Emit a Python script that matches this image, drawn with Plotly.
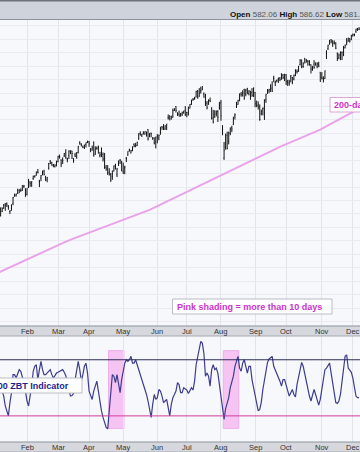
import pandas as pd
import plotly.graph_objects as go

# ---------------- data ----------------
holidays = ['2024-01-15', '2024-02-19', '2024-03-29', '2024-05-27',
            '2024-06-19', '2024-07-04', '2024-09-02', '2024-11-28']
dates = [d.strftime('%Y-%m-%d') for d in pd.bdate_range('2024-01-02', '2024-12-06')
         if d.strftime('%Y-%m-%d') not in holidays]

opens = [
    476.3, 470.4, 468.3, 467.5, 468.4, 471.9, 474.2, 477.6, 477.8, 475.3, 471.8, 474.0, 477.7, 484.0, 484.0, 487.8, 487.6, 487.6, 487.7, 490.6, 488.6,
    484.6, 489.7, 493.7, 493.5, 496.3, 498.1, 498.8, 501.2, 494.5, 496.8, 499.3, 501.7, 497.7, 495.4, 504.0, 509.3, 508.3, 506.7, 505.3, 508.1,
    508.9, 512.0, 510.2, 510.5, 513.1, 515.5, 510.5, 513.5, 517.1, 516.9, 510.2, 514.0, 512.2, 515.8, 523.4, 522.1, 519.8, 521.2, 521.7, 523.2,
    523.8, 518.2, 517.7, 523.5, 514.5, 519.2, 520.5, 513.5, 515.7, 514.4, 515.1, 504.9, 506.1, 501.0, 499.4, 497.8, 501.8, 506.6, 499.2, 506.4, 510.1, 508.6,
    501.4, 504.2, 511.2, 513.8, 517.6, 515.3, 517.4, 521.8, 522.6, 521.1, 525.8, 529.9, 528.8, 529.6, 529.3, 530.7, 532.9, 527.9, 530.3, 525.7, 526.5, 523.6,
    529.0, 526.5, 530.8, 534.9, 533.7, 533.2, 534.1, 541.6, 543.2, 540.9, 542.1, 547.2, 550.0, 544.4, 544.3, 543.9, 543.7, 545.4, 547.2,
    545.6, 543.7, 548.7, 551.8, 555.4, 556.3, 557.1, 561.4, 557.6, 562.0, 562.9, 559.4, 558.5, 552.4, 553.0, 554.5, 548.9, 541.4, 542.3, 546.0, 546.3, 548.9,
    552.6, 535.8, 511.6, 519.2, 528.5, 523.9, 529.8, 534.2, 536.5, 542.9, 549.5, 551.4, 554.7, 559.2, 559.8, 562.6, 559.5, 563.2, 559.5, 561.2, 560.3, 560.8,
    560.5, 550.2, 550.9, 549.9, 544.7, 548.4, 548.7, 555.0, 559.7, 561.7, 565.1, 563.7, 571.0, 567.8, 569.3, 570.5, 571.1, 574.4, 573.4, 570.4,
    573.4, 567.7, 567.4, 572.4, 571.3, 570.4, 573.2, 575.8, 576.1, 581.2, 584.6, 579.8, 585.9, 584.1, 583.9, 581.1, 581.3, 580.0, 581.5, 582.6, 579.9, 581.3, 575.6,
    571.3, 571.2, 570.7, 589.2, 593.1, 596.2, 599.8, 598.7, 597.4, 597.3, 589.7, 586.2, 584.7, 590.4, 593.4, 593.7, 599.5, 598.8, 600.5, 599.7,
    603.0, 603.4, 605.6, 607.7, 607.4]
highs = [
    476.4, 471.2, 470.9, 470.4, 474.8, 474.9, 477.4, 478.1, 478.6, 476.6, 472.8, 477.1, 482.7, 485.2, 485.1, 488.8, 488.3, 489.1, 491.4, 491.6, 489.1,
    489.2, 496.1, 494.4, 494.3, 498.5, 498.7, 501.6, 503.5, 495.4, 499.0, 502.2, 502.9, 498.4, 497.4, 508.0, 510.1, 508.8, 507.2, 507.0, 509.7,
    513.3, 514.2, 510.7, 512.1, 515.4, 518.2, 511.9, 517.4, 517.3, 517.1, 511.7, 515.5, 516.0, 520.6, 524.1, 522.6, 520.9, 521.6, 523.2, 524.6,
    524.4, 518.9, 520.9, 523.9, 520.4, 520.2, 520.8, 516.2, 519.5, 515.8, 515.3, 506.5, 506.2, 504.1, 500.5, 502.4, 506.1, 507.4, 504.3, 509.9, 510.8, 509.6,
    508.2, 505.9, 512.5, 516.6, 518.6, 517.7, 520.2, 522.6, 522.7, 523.8, 530.1, 531.5, 529.5, 531.6, 531.5, 531.4, 533.1, 530.3, 530.5, 527.3, 527.0, 527.5,
    529.3, 529.2, 534.7, 535.4, 536.9, 536.0, 537.0, 544.1, 543.3, 543.0, 548.5, 548.6, 550.3, 545.7, 546.9, 545.2, 546.2, 546.9, 550.3,
    546.0, 549.9, 551.8, 555.1, 556.3, 557.2, 561.7, 562.3, 563.7, 564.8, 565.2, 560.5, 559.5, 554.1, 555.3, 556.7, 549.4, 547.5, 547.2, 547.1, 547.3, 553.5,
    554.9, 536.0, 523.6, 529.8, 531.3, 531.3, 534.5, 535.7, 542.3, 544.9, 553.4, 555.0, 559.6, 560.8, 562.1, 563.2, 563.1, 563.9, 562.1, 561.7, 563.7, 564.2,
    560.8, 554.4, 553.8, 551.6, 547.7, 549.2, 555.4, 559.4, 563.0, 563.1, 566.6, 568.7, 572.9, 569.3, 570.0, 571.4, 571.9, 574.7, 574.2, 574.4,
    574.1, 569.9, 569.8, 573.4, 572.0, 573.8, 577.7, 577.6, 580.3, 585.3, 584.9, 582.8, 586.1, 585.4, 584.5, 584.5, 581.4, 580.1, 584.5, 582.7, 582.9, 583.3, 575.6,
    575.6, 572.5, 576.7, 591.9, 596.0, 599.6, 600.2, 599.3, 599.2, 597.8, 590.2, 589.5, 591.0, 590.8, 595.1, 596.2, 600.9, 601.3, 600.9, 603.4,
    604.3, 604.2, 607.9, 608.5, 609.1]
lows = [
    470.5, 468.2, 467.1, 466.4, 468.3, 471.4, 473.9, 472.3, 475.2, 473.1, 469.9, 472.4, 476.5, 482.8, 482.9, 484.9, 485.4, 486.5, 487.2, 489.2, 482.9,
    483.8, 489.3, 490.2, 490.2, 495.4, 497.0, 498.5, 500.2, 490.0, 494.4, 498.8, 498.7, 494.5, 493.6, 503.0, 507.1, 505.9, 504.8, 504.6, 505.4,
    508.5, 511.2, 504.9, 507.2, 512.4, 511.1, 508.5, 510.9, 514.5, 510.9, 508.1, 512.4, 511.1, 515.1, 521.6, 520.3, 519.0, 518.4, 519.5, 522.8,
    520.0, 516.0, 517.1, 512.8, 514.0, 517.8, 514.9, 512.1, 512.3, 509.1, 503.6, 502.2, 499.1, 498.6, 493.9, 495.4, 501.7, 503.1, 497.5, 505.7, 507.2, 501.9,
    499.9, 499.6, 508.6, 513.3, 516.4, 515.1, 516.7, 519.6, 519.7, 520.6, 525.2, 528.5, 527.3, 529.2, 529.1, 527.6, 524.7, 527.1, 527.1, 525.4, 521.8, 518.8,
    522.6, 524.9, 529.0, 532.7, 532.5, 532.6, 532.5, 540.3, 539.6, 540.2, 541.6, 546.7, 545.5, 543.0, 542.6, 542.4, 543.0, 544.6, 542.9,
    542.0, 543.4, 548.6, 551.2, 554.2, 555.0, 556.8, 555.8, 557.2, 559.6, 562.1, 556.6, 550.4, 547.9, 551.2, 553.3, 540.3, 537.4, 541.5, 542.6, 538.5, 547.6,
    539.4, 528.6, 510.3, 517.9, 518.1, 521.8, 528.6, 530.9, 536.3, 540.3, 548.9, 551.3, 553.9, 557.3, 557.4, 555.0, 557.6, 559.1, 558.3, 555.0, 557.2, 557.1,
    549.5, 549.5, 547.7, 539.4, 543.4, 543.4, 540.0, 552.7, 559.5, 559.9, 560.8, 560.8, 568.1, 565.2, 568.0, 567.6, 568.9, 569.9, 570.4, 568.9,
    566.0, 565.3, 565.5, 568.0, 566.6, 569.5, 572.6, 574.5, 575.9, 580.6, 578.5, 578.8, 582.2, 582.6, 580.4, 580.4, 574.6, 576.6, 578.1, 580.5, 578.4, 579.3, 568.4,
    570.1, 567.9, 570.5, 585.4, 592.1, 596.2, 597.0, 594.4, 596.2, 592.7, 583.9, 585.3, 584.6, 584.6, 587.5, 593.2, 595.6, 598.1, 597.6, 599.4,
    602.0, 602.3, 604.9, 606.3, 606.9]
closes = [
    472.7, 468.8, 467.3, 467.9, 474.6, 473.9, 476.6, 476.4, 476.7, 474.9, 472.3, 476.5, 482.4, 483.5, 484.9, 485.4, 488.0, 487.4, 491.3, 490.9, 482.9,
    489.2, 494.4, 492.6, 494.0, 498.1, 498.3, 501.2, 501.0, 494.1, 498.6, 502.0, 499.5, 496.8, 497.2, 507.5, 507.9, 506.0, 506.9, 506.3, 508.1,
    512.9, 512.3, 507.2, 509.8, 514.8, 511.7, 511.3, 516.8, 516.0, 515.0, 509.8, 512.9, 515.7, 520.5, 522.2, 521.2, 519.8, 518.8, 523.2, 523.1,
    522.2, 518.8, 519.4, 513.1, 518.4, 518.7, 519.3, 514.1, 518.0, 510.9, 504.5, 503.5, 500.6, 499.5, 495.2, 499.7, 505.7, 505.4, 503.5, 508.3, 510.1, 502.0,
    500.4, 505.0, 511.3, 516.6, 517.1, 517.2, 520.2, 520.8, 520.9, 523.3, 529.8, 528.7, 529.5, 530.1, 531.4, 529.8, 526.0, 529.4, 529.8, 526.1, 522.6, 527.4,
    527.8, 528.4, 534.7, 534.7, 534.0, 535.7, 537.0, 541.4, 542.5, 542.8, 547.1, 548.5, 547.0, 544.5, 542.7, 544.8, 545.5, 546.4, 544.2,
    545.3, 549.0, 551.5, 554.6, 555.3, 555.8, 561.3, 556.5, 560.0, 561.5, 564.9, 556.9, 552.7, 549.0, 554.7, 553.8, 541.2, 538.4, 544.4, 544.8, 542.0, 550.8,
    543.0, 532.9, 517.4, 522.2, 518.7, 530.7, 533.0, 533.3, 542.0, 543.8, 553.1, 554.3, 559.6, 558.7, 560.6, 556.2, 562.1, 560.8, 561.6, 558.3, 558.4, 563.7,
    552.1, 551.0, 549.6, 540.4, 546.4, 548.8, 554.4, 559.1, 562.0, 562.8, 563.1, 561.4, 571.0, 568.3, 569.7, 571.3, 570.0, 572.3, 571.5, 573.8,
    568.6, 568.9, 567.8, 573.0, 567.8, 573.2, 577.1, 576.1, 579.6, 584.3, 579.8, 582.3, 582.4, 584.6, 583.6, 583.3, 578.0, 579.2, 579.0, 580.8, 581.8, 580.0, 568.6,
    571.0, 569.8, 576.7, 591.0, 595.6, 598.2, 598.8, 596.9, 597.2, 593.4, 585.8, 588.2, 590.3, 590.5, 593.7, 595.5, 597.5, 600.7, 598.8, 602.6,
    603.6, 603.9, 607.7, 606.7, 607.8]

# 200-day moving average, read weekly (every 5th trading day)
sma_dates = dates[::5]
sma200 = [425.0, 427.7, 430.5, 433.2, 435.9, 438.7, 441.4, 444.1, 446.6, 448.9,
          451.3, 453.5, 455.8, 458.0, 460.2, 462.4, 464.6, 466.7, 468.8, 470.9,
          473.0, 475.9, 478.7, 481.6, 484.4, 487.3, 490.1, 493.0, 495.7, 498.5,
          501.2, 504.0, 506.7, 509.5, 512.2, 515.0, 517.7, 520.5, 522.9, 525.3,
          527.7, 530.1, 532.8, 536.0, 539.2, 542.4, 545.6, 548.5]

zbt = [
    .514, .501, .520, .527, .514, .495, .476, .438, .413, .400, .451, .489, .558, .558, .545, .558, .577, .571, .552, .527, .495,
    .457, .438, .476, .514, .571, .590, .596, .539, .577, .609, .577, .558, .558, .564, .571, .577, .558, .545, .554, .564,
    .567, .571, .573, .577, .567, .554, .527, .495, .476, .478, .486, .539, .577, .609, .577, .533, .558, .590, .602, .564,
    .495, .478, .463, .495, .514, .533, .495, .451, .419, .394, .369, .356, .350, .425, .476, .558, .552, .527, .558, .527, .489, .539,
    .577, .602, .615, .609, .615, .628, .602, .602, .615, .596, .583, .558, .539, .520, .501, .482, .457, .425, .394, .444, .482, .463,
    .470, .501, .495, .476, .451, .457, .463, .432, .400, .444, .470, .482, .495, .527, .520, .489, .489, .508, .504,
    .499, .486, .495, .508, .499, .533, .596, .628, .653, .685, .678, .640, .552, .564, .552, .514, .577, .596, .577, .583, .564, .514,
    .470, .432, .387, .428, .451, .470, .508, .533, .552, .590, .615, .628, .583, .571, .602, .615, .590, .564, .590, .590, .539, .508,
    .476, .448, .419, .425, .453, .501, .539, .583, .605, .618, .625, .628, .590, .577, .564, .549, .533, .514, .539, .539,
    .516, .495, .476, .489, .501, .482, .473, .520, .552, .583, .605, .590, .558, .527, .501, .476, .457, .482, .501, .482, .463, .441, .463,
    .508, .552, .577, .583, .592, .602, .564, .527, .489, .451, .448, .457, .482, .533, .564, .628, .634, .583, .575, .567,
    .545, .514, .476, .470, .470]

zbt_upper = 0.615
zbt_lower = 0.40
shade_start = ['2024-04-18', '2024-08-05']
shade_end = ['2024-05-01', '2024-08-16']
shade_top, shade_bottom = 0.65, 0.352

month_names = ['Jan', 'Feb', 'Mar', 'Apr', 'May', 'Jun', 'Jul', 'Aug', 'Sep', 'Oct', 'Nov', 'Dec']
month_starts = []
for d in dates:
    if not month_starts or d[:7] != month_starts[-1][:7]:
        month_starts.append(d)

# ---------------- figure ----------------
W, H = 360, 452
def px(x):
    return x / W
def py(y):
    return 1 - y / H

BG = '#f7f8fb'
GRID = '#e1e4ea'

fig = go.Figure()
fig.add_trace(go.Ohlc(
    x=dates, open=opens, high=highs, low=lows, close=closes,
    increasing=dict(line=dict(color='#111111', width=1)),
    decreasing=dict(line=dict(color='#111111', width=1)),
    tickwidth=0.35, xaxis='x', yaxis='y', hoverinfo='skip'))
fig.add_trace(go.Scatter(
    x=sma_dates, y=sma200, mode='lines', line=dict(color='#eaa2ea', width=2),
    xaxis='x', yaxis='y', hoverinfo='skip'))
fig.add_trace(go.Scatter(
    x=dates, y=zbt, mode='lines', line=dict(color='#3d3d8e', width=1.2),
    xaxis='x2', yaxis='y2', hoverinfo='skip'))

shapes = []
for s, e in zip(shade_start, shade_end):
    shapes.append(dict(type='rect', xref='x2', yref='y2', layer='below',
                       x0=dates.index(s) - 0.5, x1=dates.index(e) + 0.5,
                       y0=shade_bottom, y1=shade_top,
                       fillcolor='#f6c4f3', line=dict(color='#ecb0ec', width=1)))
shapes.append(dict(type='line', xref='x2 domain', yref='y2', x0=0, x1=1,
                   y0=zbt_upper, y1=zbt_upper, line=dict(color='#2c2c58', width=1.2)))
shapes.append(dict(type='line', xref='x2 domain', yref='y2', x0=0, x1=1,
                   y0=zbt_lower, y1=zbt_lower, line=dict(color='#d03c9c', width=1)))

# header band
shapes.append(dict(type='rect', xref='paper', yref='paper', x0=0, x1=1,
                   y0=py(19.5), y1=1, fillcolor='#cfd3dc', line=dict(width=0)))
shapes.append(dict(type='line', xref='paper', yref='paper', x0=0, x1=1,
                   y0=py(0.7), y1=py(0.7), line=dict(color='#6e727a', width=1.5)))
shapes.append(dict(type='line', xref='paper', yref='paper', x0=0, x1=1,
                   y0=py(19.5), y1=py(19.5), line=dict(color='#8c919b', width=1)))
# month bands
for top, bot in [(326, 336), (442, 452)]:
    shapes.append(dict(type='rect', xref='paper', yref='paper', x0=0, x1=1,
                       y0=py(bot), y1=py(top), fillcolor='#d6d8de', line=dict(width=0)))
    shapes.append(dict(type='line', xref='paper', yref='paper', x0=0, x1=1,
                       y0=py(top), y1=py(top), line=dict(color='#8e939c', width=1)))
    shapes.append(dict(type='line', xref='paper', yref='paper', x0=0, x1=1,
                       y0=py(bot), y1=py(bot), line=dict(color='#a4a8b0', width=1)))

# label boxes
shapes.append(dict(type='rect', xref='paper', yref='paper', x0=px(330), x1=px(370),
                   y0=py(112), y1=py(97.5), fillcolor='#ffffff',
                   line=dict(color='#d9a6d9', width=1)))
shapes.append(dict(type='rect', xref='paper', yref='paper', x0=px(172.5), x1=px(332),
                   y0=py(314), y1=py(299), fillcolor='#ffffff',
                   line=dict(color='#b9bcc4', width=1)))
shapes.append(dict(type='rect', xref='paper', yref='paper', x0=px(-5), x1=px(82),
                   y0=py(393), y1=py(378), fillcolor='#ffffff',
                   line=dict(color='#b9bcc4', width=1)))

ann = []
ann.append(dict(xref='paper', yref='paper', x=px(228), y=py(15), xanchor='left', yanchor='middle',
                showarrow=False,
                text="<b>Open</b> <span style='color:#555'>582.06</span> <b>High</b> "
                     "<span style='color:#555'>586.62</span> <b>Low</b> <span style='color:#555'>581.45</span>",
                font=dict(family='Liberation Sans, Arial', size=8, color='#111111')))
ann.append(dict(xref='paper', yref='paper', x=px(332), y=py(105), xanchor='left', yanchor='middle',
                showarrow=False, text='<b>200-day SMA</b>',
                font=dict(family='Liberation Sans, Arial', size=9, color='#cc33cc')))
ann.append(dict(xref='paper', yref='paper', x=px(175), y=py(306.5), xanchor='left', yanchor='middle',
                showarrow=False, text='<b>Pink shading = more than 10 days</b>',
                font=dict(family='Liberation Sans, Arial', size=9, color='#cc33cc')))
ann.append(dict(xref='paper', yref='paper', x=px(71), y=py(385.5), xanchor='right', yanchor='middle',
                showarrow=False, text='<b>S&P 500 ZBT Indicator</b>',
                font=dict(family='Liberation Sans, Arial', size=9, color='#1e1e8c')))
for name, d in zip(month_names, month_starts):
    for yc in (331, 447.5):
        ann.append(dict(xref='x', yref='paper', x=d, y=py(yc), xanchor='center', yanchor='middle',
                        showarrow=False, text=name,
                        font=dict(family='Liberation Sans, Arial', size=7.5, color='#333333')))

xrange = [3.6, 235.6]
common_x = dict(type='category', range=xrange, tickmode='array', tickvals=month_starts,
                showticklabels=False, showgrid=True, gridcolor=GRID, gridwidth=1,
                zeroline=False, showline=False, ticks='', fixedrange=True)

fig.update_layout(
    width=W, height=H, margin=dict(l=0, r=0, t=0, b=0, pad=0),
    paper_bgcolor=BG, plot_bgcolor=BG, showlegend=False,
    xaxis=dict(**common_x, anchor='y', domain=[0, 1], rangeslider=dict(visible=False)),
    xaxis2=dict(**common_x, anchor='y2', domain=[0, 1]),
    yaxis=dict(domain=[py(326), py(20)], range=[386.6, 614.4], dtick=10, tick0=0,
               showticklabels=False, showgrid=True, gridcolor='#e9ebf0', zeroline=False,
               fixedrange=True),
    yaxis2=dict(domain=[py(442), py(336)], range=[0.30, 0.706], showticklabels=False,
                showgrid=False, zeroline=False, fixedrange=True),
    shapes=shapes, annotations=ann,
)

fig.write_html('out.html', config={'displayModeBar': False},
               post_script="document.body.style.margin='0';document.body.style.overflow='hidden';")
